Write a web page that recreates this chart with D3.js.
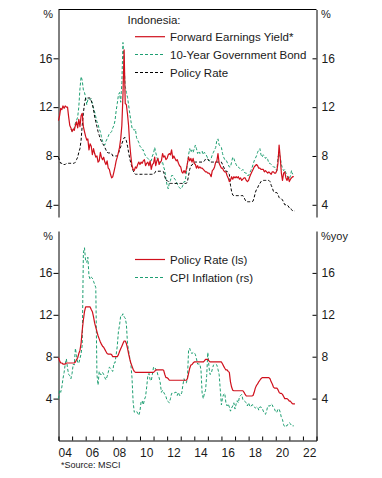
<!DOCTYPE html>
<html>
<head>
<meta charset="utf-8">
<script src="https://cdn.jsdelivr.net/npm/d3@7"></script>
<style>
  body { margin: 0; background: #fff; }
  svg { display: block; font-family: "Liberation Sans", Arial, sans-serif; }
</style>
</head>
<body>
<div class="container_graph"></div>
<script>
// monthly, month-end values; index 0 = Dec 2003
const earningsYield = [
  10.9,
  11.3, 11.9, 11.8, 12.1, 11.9, 12.1, 12.0, 12.0, 11.2, 10.5, 10.3, 10.0,
  10.2, 10.1, 10.5, 10.8, 10.3, 11.0, 10.4, 11.3, 11.5, 10.4, 10.0, 9.6,
  9.3, 9.4, 8.5, 9.0, 8.8, 8.1, 8.6, 8.2, 7.9, 8.0, 7.5, 7.6,
  8.3, 7.9, 7.7, 7.9, 7.5, 7.3, 7.6, 7.0, 6.9, 6.5, 6.2, 6.3,
  6.7, 7.1, 7.6, 7.9, 8.3, 8.7, 9.4, 10.5, 13.0, 16.7, 12.3, 12.2,
  11.4, 10.5, 9.0, 8.0, 7.2, 6.9, 6.8, 7.1, 7.0, 7.3, 7.5, 7.3,
  7.5, 7.4, 7.6, 7.7, 7.2, 7.4, 7.5, 7.2, 7.6, 6.9, 7.3, 7.4,
  7.9, 7.2, 7.6, 7.8, 7.3, 7.5, 7.6, 8.2, 7.9, 8.0, 7.7, 7.8,
  8.1, 8.2, 8.1, 8.5, 7.8, 8.0, 7.8, 7.6, 7.7, 7.4, 7.2, 7.1,
  6.7, 6.6, 6.8, 6.6, 6.9, 7.4, 7.9, 7.6, 7.8, 7.5, 7.8, 7.4,
  7.3, 7.0, 7.2, 7.0, 7.1, 7.0, 7.0, 6.9, 6.8, 6.7, 6.7, 6.6,
  6.6, 6.5, 6.3, 6.8, 6.9, 7.1, 7.5, 7.6, 8.2, 7.4, 7.2, 7.0,
  7.0, 6.8, 6.7, 6.7, 6.4, 6.2, 5.9, 6.0, 6.3, 6.1, 6.3, 6.2,
  6.3, 6.2, 6.3, 6.1, 6.2, 6.0, 6.1, 6.2, 6.2, 6.0, 5.9, 6.0,
  6.3, 6.5, 6.7, 6.9, 7.1, 7.2, 7.3, 7.2, 7.0, 7.0, 6.9, 6.9,
  6.9, 6.7, 6.8, 6.7, 6.6, 6.7, 6.6, 6.5, 6.7, 6.7, 6.6, 6.6,
  6.8, 7.4, 8.9, 7.9, 6.6, 6.0, 6.6, 6.7, 6.2, 6.0, 6.3, 5.9,
  6.1, 6.2, 6.3, 6.3
];

// 10-year bond starts Nov 2004 (index 11)
const bondStart = 11;
const bondYield = [
  10.2, 10.0,
  10.1, 10.3, 10.7, 10.9, 11.2, 12.0, 13.5, 14.5, 14.2, 13.4, 13.2, 12.8,
  12.2, 12.6, 12.7, 12.6, 12.7, 12.2, 11.9, 11.6, 11.2, 10.8, 10.6, 10.2,
  10.0, 9.6, 9.2, 9.0, 8.9, 9.2, 9.4, 9.6, 9.85, 9.9, 10.0, 10.3,
  10.5, 10.9, 11.7, 12.3, 13.0, 13.2, 12.4, 14.0, 17.3, 15.5, 13.7, 13.2,
  12.8, 12.2, 11.5, 10.9, 10.3, 10.3, 10.1, 10.2, 9.5, 9.3, 9.1, 8.8,
  8.7, 8.5, 8.5, 8.2, 8.0, 7.9, 7.8, 7.7, 7.6, 7.6, 8.0, 8.2,
  8.7, 8.3, 7.9, 7.6, 7.5, 7.5, 7.4, 7.5, 7.1, 6.8, 6.1, 5.6,
  5.3, 5.8, 6.0, 6.4, 6.4, 6.2, 6.1, 5.9, 5.7, 5.5, 5.4, 5.3,
  5.4, 5.6, 5.9, 5.9, 6.6, 7.4, 8.1, 8.6, 8.3, 8.5, 8.3, 8.6,
  8.9, 8.6, 8.2, 8.4, 8.2, 8.3, 8.4, 8.1, 8.3, 8.2, 8.0, 7.8,
  7.6, 7.7, 7.8, 8.1, 8.3, 8.5, 8.7, 9.3, 9.4, 8.9, 8.8, 8.7,
  8.2, 7.9, 7.7, 7.7, 7.5, 7.3, 7.1, 7.1, 7.5, 7.9, 7.8, 7.5,
  7.3, 7.1, 7.1, 7.0, 6.9, 6.8, 6.9, 6.7, 6.6, 6.6, 6.4, 6.4,
  6.6, 6.8, 7.0, 7.3, 7.6, 7.8, 8.0, 8.3, 8.5, 8.6, 8.1, 7.9,
  8.1, 8.0, 7.8, 7.9, 7.7, 7.4, 7.4, 7.3, 7.2, 7.1, 7.1, 6.9,
  6.8, 7.9, 8.2, 7.9, 7.3, 7.0, 6.8, 6.9, 6.6, 6.4, 6.2, 6.1,
  6.4, 6.8, 6.5
];

const policyRate = [
  7.9,
  7.6, 7.4, 7.4, 7.3, 7.3, 7.3, 7.4, 7.4, 7.4, 7.4, 7.4, 7.4,
  7.4, 7.4, 7.5, 7.7, 7.9, 8.3, 8.6, 9.3, 10.5, 11.5, 12.3, 12.75,
  12.75, 12.75, 12.75, 12.75, 12.5, 12.3, 11.8, 11.2, 10.8, 10.4, 10.0, 9.7,
  9.4, 9.2, 9.0, 8.9, 8.7, 8.5, 8.3, 8.25, 8.25, 8.25, 8.2, 8.0,
  8.0, 8.0, 8.0, 8.0, 8.2, 8.5, 8.75, 9.0, 9.25, 9.5, 9.5, 9.25,
  8.8, 8.3, 7.8, 7.4, 7.1, 6.8, 6.6, 6.5, 6.5, 6.5, 6.5, 6.5,
  6.5, 6.5, 6.5, 6.5, 6.5, 6.5, 6.5, 6.5, 6.5, 6.5, 6.5, 6.5,
  6.6, 6.75, 6.75, 6.75, 6.75, 6.75, 6.75, 6.75, 6.7, 6.3, 6.0, 6.0,
  5.9, 5.75, 5.75, 5.75, 5.75, 5.75, 5.75, 5.75, 5.75, 5.75, 5.75, 5.75,
  5.75, 5.75, 5.75, 5.75, 5.75, 5.9, 6.4, 6.9, 7.2, 7.25, 7.4, 7.5,
  7.5, 7.5, 7.5, 7.5, 7.5, 7.5, 7.5, 7.5, 7.6, 7.75, 7.75, 7.75,
  7.6, 7.5, 7.5, 7.5, 7.5, 7.5, 7.5, 7.5, 7.5, 7.5, 7.5, 7.5,
  7.3, 7.1, 6.9, 6.75, 6.75, 6.6, 6.5, 5.6, 5.1, 4.8, 4.75, 4.75,
  4.75, 4.75, 4.75, 4.75, 4.75, 4.75, 4.75, 4.6, 4.4, 4.25, 4.25, 4.25,
  4.25, 4.25, 4.25, 4.3, 4.6, 5.0, 5.25, 5.4, 5.6, 5.75, 5.9, 6.0,
  6.0, 6.0, 6.0, 6.0, 6.0, 6.0, 5.9, 5.6, 5.4, 5.1, 5.0, 5.0,
  5.0, 4.85, 4.6, 4.5, 4.5, 4.4, 4.2, 4.0, 4.0, 4.0, 3.9, 3.75,
  3.75, 3.6, 3.5, 3.5, 3.5
];

const cpiInflation = [
  4.0,
  4.8, 4.6, 5.1, 5.9, 6.5, 7.3, 7.8, 6.9, 6.3, 6.2, 5.9, 6.4,
  7.3, 7.2, 8.8, 8.1, 7.4, 7.4, 7.8, 8.3, 9.1, 17.9, 18.4, 17.1,
  17.0, 17.5, 15.7, 15.4, 15.6, 15.5, 15.2, 14.9, 14.6, 6.3, 5.3, 6.6,
  6.3, 6.3, 6.5, 6.3, 6.0, 5.8, 6.1, 6.5, 7.0, 6.9, 6.7, 6.6,
  7.4, 7.4, 8.2, 9.0, 10.4, 11.0, 11.9, 11.9, 12.1, 11.8, 11.7, 11.1,
  9.2, 8.6, 7.9, 7.3, 6.0, 3.7, 2.7, 2.8, 2.8, 2.6, 2.4, 2.8,
  3.7, 3.8, 3.4, 3.9, 4.2, 5.1, 6.2, 6.4, 5.8, 5.7, 6.3, 7.0,
  7.0, 6.8, 6.7, 6.2, 6.0, 5.5, 4.6, 4.8, 4.6, 4.4, 4.2, 3.8,
  3.7, 3.6, 4.0, 4.5, 4.5, 4.5, 4.6, 4.6, 4.3, 4.6, 4.3, 4.3,
  4.6, 5.3, 5.9, 5.6, 5.5, 5.9, 8.6, 8.8, 8.4, 8.3, 8.4, 8.4,
  8.2, 7.8, 7.3, 7.3, 7.3, 6.7, 4.5, 4.0, 4.5, 4.8, 6.2, 8.4,
  7.0, 6.3, 6.4, 6.8, 7.2, 7.3, 7.3, 7.2, 6.8, 6.3, 4.9, 3.4,
  4.1, 4.4, 4.5, 3.6, 3.3, 3.5, 3.2, 2.8, 3.1, 3.3, 3.6, 3.0,
  3.5, 3.8, 3.6, 4.2, 4.3, 4.4, 3.9, 3.8, 3.7, 3.6, 3.3, 3.6,
  3.3, 3.2, 3.4, 3.4, 3.2, 3.1, 3.2, 3.2, 2.9, 3.2, 3.2, 3.1,
  2.8, 2.6, 2.5, 2.8, 3.3, 3.3, 3.3, 3.5, 3.4, 3.1, 3.0, 2.7,
  2.7, 3.0, 3.0, 2.7, 2.2, 2.0, 1.5, 1.3, 1.4, 1.4, 1.6, 1.7,
  1.6, 1.4, 1.4, 1.4
];

const yTicks = [4, 8, 12, 16];
const xLabelYears = [2004, 2006, 2008, 2010, 2012, 2014, 2016, 2018, 2020, 2022];

const RED = "#d0101c";
const GREEN = "#1e9f72";
const INK = "#1a1a1a";

const width = 382;
const height = 478;
const left = 58.5;
const right = 316.5;

const svg = d3
  .select(".container_graph")
  .append("svg")
  .attr("width", width)
  .attr("height", height)
  .style("background-color", "#fff");

const xScale = d3
  .scaleTime()
  .domain([new Date(2004, 0, 1), new Date(2023, 0, 1)])
  .range([left, right]);

const toPoints = (values, offset) =>
  values.map((v, i) => ({ date: new Date(2004, i + offset, 0), value: v }));

function yAxes(yScale) {
  const gl = svg
    .append("g")
    .attr("transform", `translate(${left},0)`)
    .call(d3.axisLeft(yScale).tickValues(yTicks).tickSize(5).tickSizeOuter(0).tickPadding(1));
  const gr = svg
    .append("g")
    .attr("transform", `translate(${right},0)`)
    .call(d3.axisRight(yScale).tickValues(yTicks).tickSize(-4).tickSizeOuter(0).tickPadding(5));
  [gl, gr].forEach((g) => {
    g.attr("font-family", null).attr("font-size", null);
    g.selectAll("path, line").attr("stroke", "#000");
    g.selectAll("text").attr("fill", INK).style("font-size", "12px");
  });
}

function drawLine(yScale, points, color, dash, w) {
  const line = d3
    .line()
    .x((d) => xScale(d.date))
    .y((d) => yScale(d.value));
  svg
    .append("path")
    .datum(points)
    .attr("d", line)
    .attr("fill", "none")
    .attr("stroke", color)
    .attr("stroke-width", w)
    .attr("stroke-dasharray", dash)
    .attr("stroke-linejoin", "round");
}

function legendItem(x, y, color, dash, w, label) {
  svg
    .append("line")
    .attr("x1", x)
    .attr("x2", x + 30)
    .attr("y1", y)
    .attr("y2", y)
    .attr("stroke", color)
    .attr("stroke-width", w)
    .attr("stroke-dasharray", dash);
  svg
    .append("text")
    .attr("x", x + 35)
    .attr("y", y)
    .attr("dy", "0.35em")
    .attr("fill", INK)
    .style("font-size", "11.5px")
    .text(label);
}

// ---- top panel: earnings yield vs bond vs policy rate
const yTop = d3.scaleLinear().domain([3, 20]).range([217, 9.5]);

svg
  .append("line")
  .attr("x1", left)
  .attr("x2", right)
  .attr("y1", 9.5)
  .attr("y2", 9.5)
  .attr("stroke", "#000");
yAxes(yTop);

drawLine(yTop, toPoints(bondYield, bondStart), GREEN, "3,2", 1);
drawLine(yTop, toPoints(policyRate, 0), "#000", "3,2", 1);
drawLine(yTop, toPoints(earningsYield, 0), RED, null, 1.2);

svg.append("text").attr("x", 53).attr("y", 14).attr("dy", "0.35em")
  .attr("text-anchor", "end").attr("fill", INK).style("font-size", "11px").text("%");
svg.append("text").attr("x", 321).attr("y", 14).attr("dy", "0.35em")
  .attr("fill", INK).style("font-size", "11px").text("%");

svg.append("text").attr("x", 127.5).attr("y", 20).attr("dy", "0.35em")
  .attr("fill", INK).style("font-size", "11.5px").text("Indonesia:");
legendItem(135, 36.7, RED, null, 1.2, "Forward Earnings Yield*");
legendItem(135, 54.5, GREEN, "3,2", 1, "10-Year Government Bond");
legendItem(135, 72.5, "#000", "3,2", 1, "Policy Rate");

// ---- bottom panel: policy rate vs CPI inflation
const yBottom = d3.scaleLinear().domain([0, 20]).range([440.5, 231]);
yAxes(yBottom);

const gx = svg
  .append("g")
  .attr("transform", `translate(0,440.5)`)
  .call(d3.axisBottom(xScale).ticks(d3.timeYear.every(1)).tickSize(-4).tickSizeOuter(0).tickFormat(""));
gx.selectAll("path, line").attr("stroke", "#000");

svg
  .append("g")
  .selectAll("text")
  .data(xLabelYears)
  .enter()
  .append("text")
  .attr("x", (d) => xScale(new Date(d, 6, 1)))
  .attr("y", 453)
  .attr("dy", "0.35em")
  .attr("text-anchor", "middle")
  .attr("fill", INK)
  .style("font-size", "12px")
  .text((d) => d3.timeFormat("%y")(new Date(d, 0, 1)));

drawLine(yBottom, toPoints(cpiInflation, 0), GREEN, "3,2", 1);
drawLine(yBottom, toPoints(policyRate, 0), RED, null, 1.2);

svg.append("text").attr("x", 53).attr("y", 236.5).attr("dy", "0.35em")
  .attr("text-anchor", "end").attr("fill", INK).style("font-size", "11px").text("%");
svg.append("text").attr("x", 321).attr("y", 236.5).attr("dy", "0.35em")
  .attr("fill", INK).style("font-size", "11px").text("%yoy");

legendItem(135, 259.5, RED, null, 1.2, "Policy Rate (ls)");
legendItem(135, 277.5, GREEN, "3,2", 1, "CPI Inflation (rs)");

svg.append("text").attr("x", 61).attr("y", 465).attr("dy", "0.35em")
  .attr("fill", INK).style("font-size", "9px").text("*Source: MSCI");
</script>
</body>
</html>
